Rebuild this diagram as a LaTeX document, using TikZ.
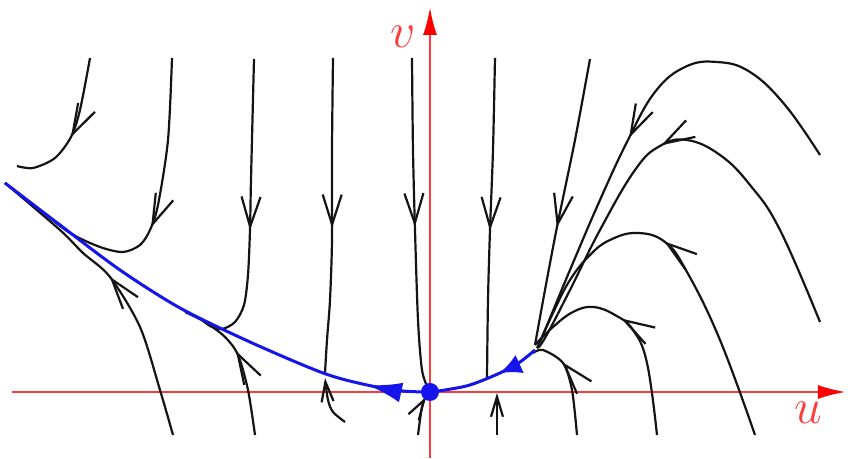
\documentclass[tikz,border=0pt]{standalone}
\usetikzlibrary{arrows.meta,decorations.markings}

\definecolor{axisred}{RGB}{255,60,60}
\definecolor{manblue}{RGB}{20,20,235}

\begin{document}
\begin{tikzpicture}[
    x=0.5pt, y=0.5pt,
    axis/.style={draw=axisred, line width=1.3pt, -{Latex[length=14pt,width=7pt,color=red]}},
    orbit/.style={draw=black!92, line width=1.1pt},
    flow/.style={orbit, postaction={decorate}, decoration={markings,
        mark=at position #1 with {\arrow{Straight Barb[length=15pt,width=9.5pt]}}}},
    inflow/.style={orbit, -{Straight Barb[length=10pt,width=6pt]}},
    slow/.style 2 args={draw=manblue, line width=1.5pt, postaction={decorate}, decoration={markings,
        mark=at position #1 with {\arrow{Latex[length=#2,width=10pt]}}}},
    every node/.style={text=axisred, font=\Huge}
]
\useasboundingbox (-430,-67) rectangle (418,392);

\draw[axis] (-418,0) -- (416,0);
\draw[axis] (0,-66) -- (0,385);
\node (ulabel) at (378,-21) {$u$};
\node (vlabel) at (-27,355) {$v$};

\draw[flow=0.55] plot[smooth] coordinates {(-340,334) (-350,282) (-359,255) (-375,234) (-397,224) (-413,226)};
\draw[flow=0.49] plot[smooth] coordinates {(-258,334) (-262,252) (-272,187) (-280,162) (-290,147) (-307,140) (-330,145) (-360,159) (-390,182) (-425,209)};
\draw[flow=0.56] plot[smooth] coordinates {(-176,333) (-179,212) (-180,162) (-182,117) (-186,87) (-195,70) (-208,63) (-220,66) (-230,74)};
\draw[flow=0.57] plot[smooth] coordinates {(-175,-43) (-182,2) (-192,37) (-205,55) (-225,70) (-245,80)};
\draw[flow=0.55] plot[smooth] coordinates {(-257,-43) (-270,2) (-290,65) (-320,115) (-347,139) (-370,162) (-425,209)};
\draw[flow=0.54] plot[smooth] coordinates {(-97,334) (-98,242) (-98,152) (-100,92) (-103,52) (-105,19)};
\draw[inflow] plot[smooth] coordinates {(-85,-30) (-97,-20) (-102,-8) (-105,14)};
\draw[flow=0.51] plot[smooth] coordinates {(-18,334) (-17,242) (-15,162) (-12,72) (-8,22) (-2,4)};
\draw[inflow] plot[smooth] coordinates {(-12,-43) (-8,-15) (-4,-5)};
\draw[flow=0.54] plot[smooth] coordinates {(65,334) (63,242) (60,162) (58,92) (57,14)};
\draw[inflow] (67,-43) -- (67,-1);
\draw[flow=0.59] plot[smooth] coordinates {(160,333) (145,252) (127,165) (115,102) (105,47)};
\draw[flow=0.54] plot[smooth, tension=0.7] coordinates {(390,237) (355,287) (320,320) (287,330) (255,325) (225,300) (198,252) (170,192) (140,122) (115,62) (107,44)};
\draw[flow=0.52] plot[smooth, tension=0.7] coordinates {(390,70) (350,162) (320,207) (290,237) (257,252) (230,246) (205,222) (170,162) (140,102) (115,54) (107,44)};
\draw[flow=0.54] plot[smooth, tension=0.7] coordinates {(325,-43) (290,52) (257,120) (235,150) (207,159) (180,152) (160,137) (140,112) (123,79) (110,50)};
\draw[flow=0.55] plot[smooth, tension=0.7] coordinates {(227,-43) (217,29) (203,62) (185,77) (163,85) (143,80) (123,65) (105,47)};
\draw[flow=0.69] plot[smooth] coordinates {(147,-43) (142,2) (133,29) (113,42) (103,39)};

\draw[slow={0.13}{17pt}] plot[smooth] coordinates {(0,0) (-27,1) (-63,7) (-107,19) (-180,50) (-250,84) (-310,122) (-370,167) (-425,209)};
\draw[slow={0.37}{11pt}] plot[smooth] coordinates {(105,42) (90,30) (70,19) (40,7) (15,2) (0,0)};
\node[circle, fill=manblue, minimum size=9pt, inner sep=0pt] (origin) at (0,0) {};

\end{tikzpicture}
\end{document}
